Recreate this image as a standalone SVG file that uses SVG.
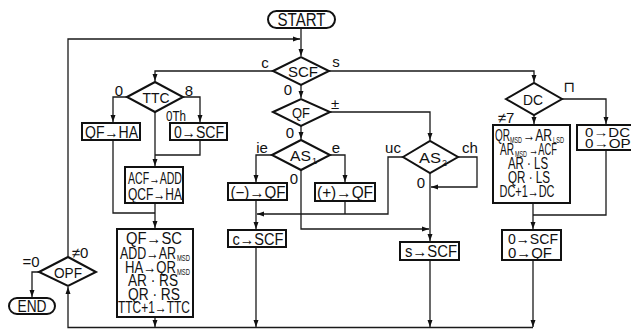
<svg xmlns="http://www.w3.org/2000/svg" width="631" height="329" viewBox="0 0 631 329">
<style>
.bg{fill:#fff}
.c path{fill:none;stroke:#1a1a1a;stroke-width:1.3}
.n rect,.n polygon{fill:#fff;stroke:#111;stroke-width:2}
text{font-family:"Liberation Sans Narrow","Liberation Sans",Arial,"DejaVu Sans",sans-serif;fill:#111}
.t{font-size:16px;text-anchor:middle}
.ts{font-size:16px}
.d{font-size:15.5px;text-anchor:middle}
.ds{font-size:15.5px}
.l{font-size:15px;text-anchor:middle}
.s{font-size:9px}
</style>
<defs>
<marker id="a" markerUnits="userSpaceOnUse" markerWidth="8" markerHeight="6" refX="7" refY="3" orient="auto">
<path d="M0,0.5 L7,3 L0,5.5 z" fill="#111"/>
</marker>
</defs>
<rect class="bg" x="0" y="0" width="631" height="329"/>
<g id="connectors" class="c">
<path d="M301,28 V56" marker-end="url(#a)"/>
<path d="M68,256 V39 H300" marker-end="url(#a)"/>
<path d="M273,71 H155 V81" marker-end="url(#a)"/>
<path d="M301,85 V98" marker-end="url(#a)"/>
<path d="M329,71 H534 V82" marker-end="url(#a)"/>
<path d="M127,97 H113 V122" marker-end="url(#a)"/>
<path d="M183,97 H200 V122" marker-end="url(#a)"/>
<path d="M155,112 V166" marker-end="url(#a)"/>
<path d="M200,140 V155 H155"/>
<path d="M113,140 V213 H155"/>
<path d="M155,203 V228" marker-end="url(#a)"/>
<path d="M155,317 V327" marker-end="url(#a)"/>
<path d="M301,126 V139" marker-end="url(#a)"/>
<path d="M330,112 H430 V140" marker-end="url(#a)"/>
<path d="M272,155 H256 V182" marker-end="url(#a)"/>
<path d="M330,155 H345 V182" marker-end="url(#a)"/>
<path d="M301,170 V229 H429" marker-end="url(#a)"/>
<path d="M256,200 V229" marker-end="url(#a)"/>
<path d="M345,201 V214"/>
<path d="M403,157 H388 V214 H257" marker-end="url(#a)"/>
<path d="M458,157 H477 V187 H431" marker-end="url(#a)"/>
<path d="M430,173 V241" marker-end="url(#a)"/>
<path d="M430,260 V327" marker-end="url(#a)"/>
<path d="M256,247 V327" marker-end="url(#a)"/>
<path d="M534,115 V124" marker-end="url(#a)"/>
<path d="M562,99 H606 V124" marker-end="url(#a)"/>
<path d="M533,203 V229" marker-end="url(#a)"/>
<path d="M606,150 V215 H533"/>
<path d="M533,260 V327" marker-end="url(#a)"/>
<path d="M533,327.5 H68 V287" marker-end="url(#a)"/>
<path d="M39,272 H32 V297" marker-end="url(#a)"/>
</g>
<g id="start" class="n">
<rect x="268" y="11" width="67" height="17" rx="8.5"/>
<text x="301.5" y="26" style="font-size:17.5px;text-anchor:middle" textLength="48" lengthAdjust="spacingAndGlyphs">START</text>
</g>
<g id="scf" class="n">
<polygon points="273,71 301,57 329,71 301,85"/>
<text class="d" x="303" y="76.5" textLength="30" lengthAdjust="spacingAndGlyphs">SCF</text>
<text class="l" x="265" y="68">c</text>
<text class="l" x="336" y="67">s</text>
<text class="l" x="288" y="95">0</text>
</g>
<g id="ttc" class="n">
<polygon points="127,97 155,82 183,97 155,112"/>
<text class="d" x="156" y="102.5" textLength="27" lengthAdjust="spacingAndGlyphs">TTC</text>
<text class="l" x="119" y="95.5">0</text>
<text class="l" x="189" y="95.5">8</text>
<text class="l" x="176" y="121" textLength="20" lengthAdjust="spacingAndGlyphs">0Th</text>
</g>
<g id="qf-ha" class="n">
<rect x="82" y="123" width="58" height="17"/>
<text class="t" x="111.5" y="137.5" textLength="53" lengthAdjust="spacingAndGlyphs">QF→HA</text>
</g>
<g id="zero-scf" class="n">
<rect x="170" y="123" width="57" height="17"/>
<text class="t" x="199" y="137.5" textLength="50" lengthAdjust="spacingAndGlyphs">0→SCF</text>
</g>
<g id="acf" class="n">
<rect x="125" y="167" width="58" height="36"/>
<text class="t" x="155" y="183.5" textLength="54" lengthAdjust="spacingAndGlyphs">ACF→ADD</text>
<text class="t" x="155" y="200" textLength="54" lengthAdjust="spacingAndGlyphs">QCF→HA</text>
</g>
<g id="shift" class="n">
<rect x="117" y="229" width="76" height="88"/>
<text class="t" x="154" y="244" textLength="56" lengthAdjust="spacingAndGlyphs">QF→SC</text>
<text class="ts" x="120" y="258.5" textLength="56" lengthAdjust="spacingAndGlyphs">ADD→AR</text>
<text class="s" x="177" y="261" textLength="13" lengthAdjust="spacingAndGlyphs">MSD</text>
<text class="ts" x="125" y="272.5" textLength="51" lengthAdjust="spacingAndGlyphs">HA→QR</text>
<text class="s" x="177" y="275" textLength="13" lengthAdjust="spacingAndGlyphs">MSD</text>
<text class="t" x="153" y="286" textLength="50" lengthAdjust="spacingAndGlyphs">AR · RS</text>
<text class="t" x="154" y="299.5" textLength="52" lengthAdjust="spacingAndGlyphs">QR · RS</text>
<text class="t" x="154" y="313" textLength="72" lengthAdjust="spacingAndGlyphs">TTC+1→TTC</text>
</g>
<g id="qf" class="n">
<polygon points="273,112 301,99 330,112 301,126"/>
<text class="d" x="301" y="117.5" textLength="18" lengthAdjust="spacingAndGlyphs">QF</text>
<text class="l" x="335" y="109">±</text>
<text class="l" x="290" y="138">0</text>
</g>
<g id="as1" class="n">
<polygon points="272,155 301,140 330,155 301,170"/>
<text class="ds" x="290" y="160.5" textLength="21" lengthAdjust="spacingAndGlyphs">AS</text>
<text class="s" x="312" y="164">1</text>
<text class="l" x="262" y="153">ie</text>
<text class="l" x="336" y="153">e</text>
<text class="l" x="294" y="184">0</text>
</g>
<g id="neg-qf" class="n">
<rect x="228" y="183" width="59" height="17"/>
<text class="t" x="258" y="197.5" textLength="55" lengthAdjust="spacingAndGlyphs">(−)→QF</text>
</g>
<g id="pos-qf" class="n">
<rect x="315" y="183" width="60" height="18"/>
<text class="t" x="345" y="198" textLength="56" lengthAdjust="spacingAndGlyphs">(+)→QF</text>
</g>
<g id="c-scf" class="n">
<rect x="228" y="230" width="58" height="17"/>
<text class="t" x="258" y="244.5" textLength="51" lengthAdjust="spacingAndGlyphs">c→SCF</text>
</g>
<g id="as2" class="n">
<polygon points="403,157 430,141 458,157 430,173"/>
<text class="ds" x="419" y="162.5" textLength="22" lengthAdjust="spacingAndGlyphs">AS</text>
<text class="s" x="442" y="166">2</text>
<text class="l" x="393" y="153">uc</text>
<text class="l" x="470" y="153">ch</text>
<text class="l" x="421" y="188">0</text>
</g>
<g id="s-scf" class="n">
<rect x="400" y="242" width="59" height="18"/>
<text class="t" x="431" y="257" textLength="52" lengthAdjust="spacingAndGlyphs">s→SCF</text>
</g>
<g id="dc" class="n">
<polygon points="506,99 534,83 562,99 534,115"/>
<text class="d" x="533" y="104.5" textLength="20" lengthAdjust="spacingAndGlyphs">DC</text>
<text class="l" x="569" y="92">⊓</text>
<text class="l" x="506" y="123">≠7</text>
</g>
<g id="dc-box" class="n">
<rect x="493" y="125" width="77" height="78"/>
<text class="ts" x="495" y="140.5" textLength="15" lengthAdjust="spacingAndGlyphs">QR</text>
<text class="s" x="510" y="143" textLength="12" lengthAdjust="spacingAndGlyphs">MSD</text>
<text class="ts" x="523" y="140.5" textLength="29" lengthAdjust="spacingAndGlyphs">→AR</text>
<text class="s" x="553" y="143" textLength="11" lengthAdjust="spacingAndGlyphs">LSD</text>
<text class="ts" x="500" y="154.5" textLength="14" lengthAdjust="spacingAndGlyphs">AR</text>
<text class="s" x="515" y="157" textLength="12" lengthAdjust="spacingAndGlyphs">MSD</text>
<text class="ts" x="529" y="154.5" textLength="28" lengthAdjust="spacingAndGlyphs">→ACF</text>
<text class="t" x="528" y="168.5" textLength="40" lengthAdjust="spacingAndGlyphs">AR · LS</text>
<text class="t" x="529" y="182.5" textLength="42" lengthAdjust="spacingAndGlyphs">QR · LS</text>
<text class="t" x="527" y="196.5" textLength="55" lengthAdjust="spacingAndGlyphs">DC+1→DC</text>
</g>
<g id="reset-box" class="n">
<rect x="577" y="125" width="70" height="25"/>
<text x="585" y="136.5" style="font-size:13px" textLength="45" lengthAdjust="spacingAndGlyphs">0→DC</text>
<text x="585" y="148" style="font-size:13px" textLength="55" lengthAdjust="spacingAndGlyphs">0→OPF</text>
</g>
<g id="zero-scf-qf" class="n">
<rect x="502" y="230" width="59" height="30"/>
<text x="508" y="243.5" style="font-size:14.5px" textLength="50" lengthAdjust="spacingAndGlyphs">0→SCF</text>
<text x="508" y="257.5" style="font-size:14.5px" textLength="44" lengthAdjust="spacingAndGlyphs">0→QF</text>
</g>
<g id="opf" class="n">
<polygon points="39,272 68,257 96,272 68,286"/>
<text class="d" x="68" y="277.5" textLength="28" lengthAdjust="spacingAndGlyphs">OPF</text>
<text class="l" x="80" y="258">≠0</text>
<text class="l" x="31" y="267">=0</text>
</g>
<g id="end" class="n">
<rect x="9" y="298" width="46" height="16" rx="8"/>
<text x="32" y="312" style="font-size:16px;text-anchor:middle" textLength="29" lengthAdjust="spacingAndGlyphs">END</text>
</g>
</svg>
